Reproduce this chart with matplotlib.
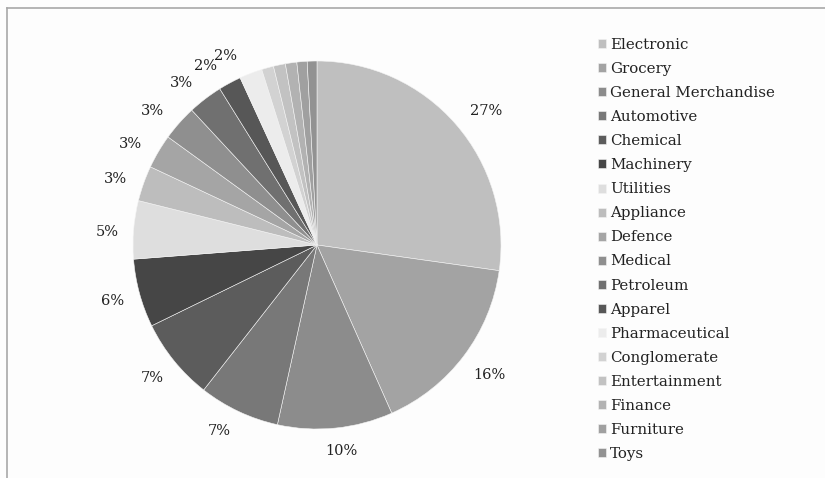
import numpy as np
import matplotlib.pyplot as plt
from matplotlib.lines import Line2D

# sector shares (percent)
sectors = ['Electronic', 'Grocery', 'General Merchandise', 'Automotive', 'Chemical',
           'Machinery', 'Utilities', 'Appliance', 'Defence', 'Medical', 'Petroleum',
           'Apparel', 'Pharmaceutical', 'Conglomerate', 'Entertainment', 'Finance',
           'Furniture', 'Toys']
shares = [27.2, 16.1, 10.1, 7.1, 7.2, 6.0, 5.1, 3.1, 3.0, 3.1, 3.05,
          2.0, 2.0, 1.05, 1.05, 1.0, 0.9, 0.85]
greys = ['#bfbfbf', '#a3a3a3', '#8c8c8c', '#787878', '#5c5c5c', '#464646',
         '#dedede', '#bdbdbd', '#a5a5a5', '#8f8f8f', '#707070', '#575757',
         '#ececec', '#d2d2d2', '#c2c2c2', '#b2b2b2', '#a0a0a0', '#929292']

plt.rcParams['font.family'] = ['DejaVu Serif']

W, H = 825, 478
fig = plt.figure(figsize=(W / 100, H / 100), dpi=100)
fig.patch.set_facecolor('#fdfdfd')

# thin grey frame at top and left
fig.add_artist(Line2D([7 / W, 1], [1 - 8 / H, 1 - 8 / H], color='#a8a8a8', lw=1.2))
fig.add_artist(Line2D([7 / W, 7 / W], [0, 1 - 8 / H], color='#a8a8a8', lw=1.2))

cx, cy, r = 317, 245, 184
ax = fig.add_axes([(cx - r) / W, (H - cy - r) / H, 2 * r / W, 2 * r / H])


def pct(v):
    return f'{v:.0f}%' if v >= 1.5 else ''


wedges, _, autotexts = ax.pie(shares, colors=greys, startangle=90, counterclock=False,
                              autopct=pct, radius=1,
                              wedgeprops=dict(linewidth=0.4, edgecolor='#f4f4f4'),
                              textprops=dict(fontsize=10.5, color='#222222'))
ax.set_xlim(-1, 1)
ax.set_ylim(-1, 1)
ax.set_aspect('equal')

# labels sit just outside the rim, crowded ones pushed a little round
nudge = {0: -2.7, 2: 1.0, 3: -2.5, 6: 1.2, 7: 1.4, 8: 2.0, 9: 2.3, 10: 2.6, 11: 3.5, 12: 4.6}
renderer = fig.canvas.get_renderer()
for i, (w, t) in enumerate(zip(wedges, autotexts)):
    if not t.get_text():
        continue
    ang = np.deg2rad((w.theta1 + w.theta2) / 2 + nudge.get(i, 0))
    bb = t.get_window_extent(renderer)
    ext = (bb.width / 2 * abs(np.cos(ang)) + bb.height / 2 * abs(np.sin(ang))) / r
    d = 1.08 + ext
    t.set_position((d * np.cos(ang), d * np.sin(ang)))
    t.set_ha('center')
    t.set_va('center')

leg = fig.legend(wedges, sectors, loc='upper left', bbox_to_anchor=(0.717, 0.933),
                 frameon=False, fontsize=10.8, handlelength=0.55, handleheight=0.55,
                 handletextpad=0.3, labelspacing=0.67, borderaxespad=0)
for t in leg.get_texts():
    t.set_color('#222222')

fig.savefig('out.png', dpi=100, facecolor=fig.get_facecolor())
